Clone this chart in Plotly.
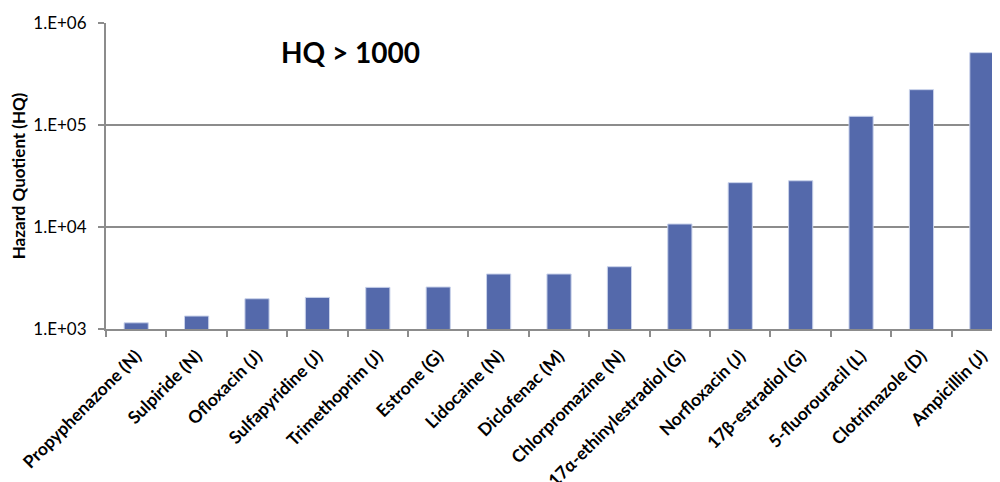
import plotly.graph_objects as go

compounds = [
    "Propyphenazone (N)", "Sulpiride (N)", "Ofloxacin (J)", "Sulfapyridine (J)",
    "Trimethoprim (J)", "Estrone (G)", "Lidocaine (N)", "Diclofenac (M)",
    "Chlorpromazine (N)", "17α-ethinylestradiol (G)", "Norfloxacin (J)",
    "17β-estradiol (G)", "5-fluorouracil (L)", "Clotrimazole (D)", "Ampicillin (J)",
]
hq = [1150, 1340, 1980, 2040, 2560, 2580, 3460, 3460, 4080,
      10700, 27200, 28400, 121700, 222000, 512000]

tick_vals = [1e3, 1e4, 1e5, 1e6]
tick_text = ["1.E+03", "1.E+04", "1.E+05", "1.E+06"]

font_family = "Lato, 'Open Sans', Arial, sans-serif"

fig = go.Figure(go.Bar(
    x=compounds,
    y=hq,
    marker=dict(color="#5469AB", line=dict(color="#C9D2EA", width=1)),
))

# page body adds an 8px offset, so the figure is a little smaller than the window
fig.update_layout(
    width=992, height=474,
    margin=dict(l=98, r=0, t=15, b=153),
    paper_bgcolor="white",
    plot_bgcolor="white",
    bargap=0.6,
    showlegend=False,
    font=dict(family=font_family, color="black"),
    annotations=[dict(
        text="<b>HQ > 1000</b>", x=0.273, y=0.905, xref="paper", yref="paper",
        xanchor="center", yanchor="middle", showarrow=False,
        font=dict(size=28, family=font_family, color="black"),
    )],
)

fig.update_xaxes(
    type="category",
    range=[-0.5, 14.3],
    automargin=False,
    tickangle=-45,
    tickfont=dict(size=17.5, family=font_family, color="black", weight="bold"),
    ticklabelstandoff=8,
    showgrid=False,
    showline=True, linecolor="#8C8C8C", linewidth=2,
    ticks="outside", tickson="boundaries", ticklen=6, tickcolor="#8C8C8C", tickwidth=2,
)

fig.update_yaxes(
    type="log",
    range=[3, 6],
    automargin=False,
    tickvals=tick_vals,
    ticktext=tick_text,
    tickfont=dict(size=17, family=font_family, color="black"),
    ticklabelstandoff=8,
    showgrid=True, gridcolor="#8C8C8C", gridwidth=2,
    showline=True, linecolor="#8C8C8C", linewidth=2,
    ticks="outside", ticklen=6, tickcolor="#8C8C8C", tickwidth=2,
    zeroline=False,
    title=dict(text="<b>Hazard Quotient (HQ)</b>", font=dict(size=17, family=font_family), standoff=8),
)

fig.write_html("out.html")
